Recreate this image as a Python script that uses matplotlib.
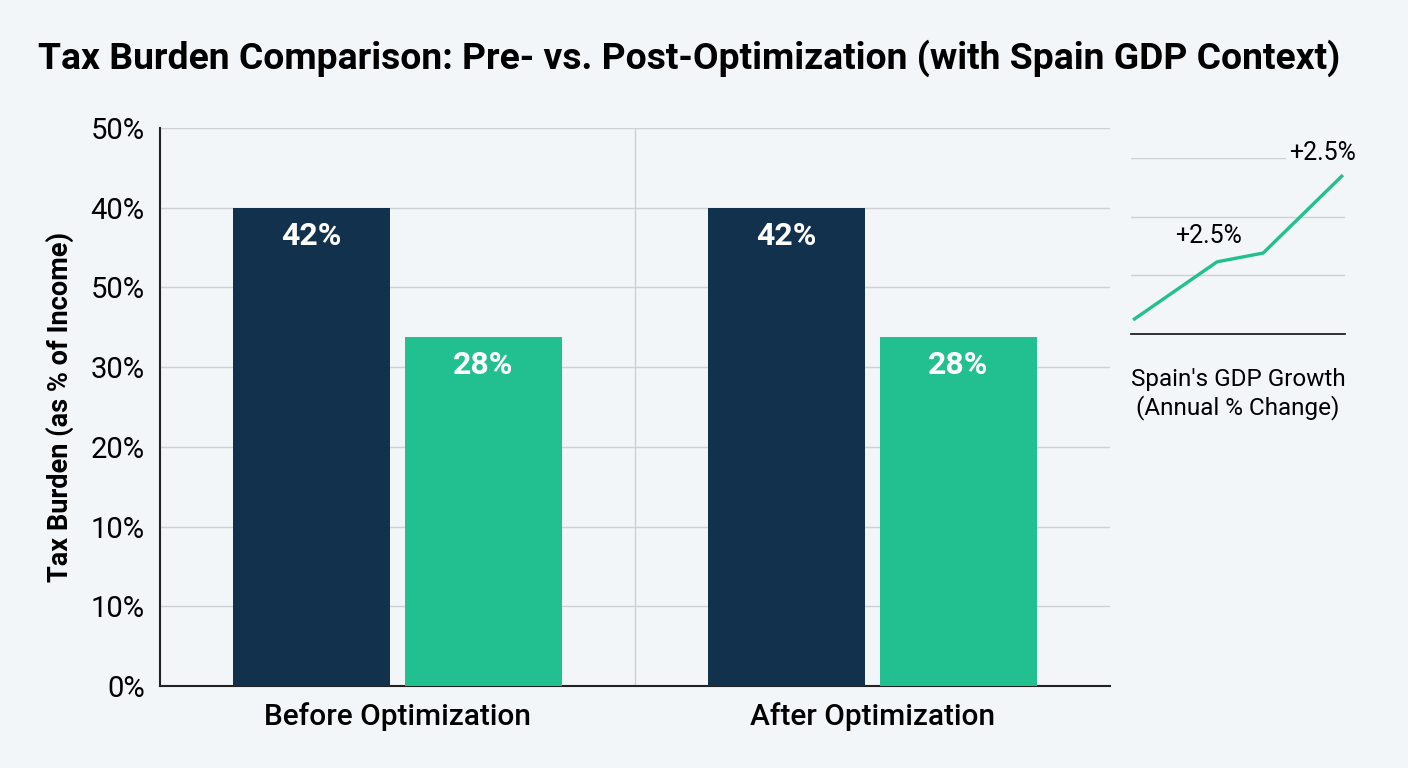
import matplotlib.pyplot as plt

plt.rcParams['font.family'] = ['Roboto', 'DejaVu Sans']

# ── Data ──────────────────────────────────────────────────────────────────────
groups        = ['Before Optimization', 'After Optimization']
navy_heights  = [60, 60]          # bar heights in axis units (tick spacing = 10)
green_heights = [43.8, 43.8]
navy_labels   = ['42%', '42%']
green_labels  = ['28%', '28%']
ytick_vals    = [0, 10, 20, 30, 40, 50, 60, 70]
ytick_labels  = ['0%', '10%', '10%', '20%', '30%', '50%', '40%', '50%']

gdp_x      = [0.0, 0.40, 0.62, 1.0]
gdp_y      = [0.24, 1.23, 1.38, 2.71]
gdp_notes  = [(1, '+2.5%'), (3, '+2.5%')]

BG    = '#F3F6F9'
NAVY  = '#11314D'
GREEN = '#22BF91'
GRID  = '#CDD0D4'

fig = plt.figure(figsize=(14.08, 7.68), dpi=100, facecolor=BG)

# ── Main bar chart ────────────────────────────────────────────────────────────
ax = fig.add_axes([160 / 1408, 1 - 686 / 768, 950 / 1408, 558 / 768])
ax.set_facecolor(BG)

x = range(len(groups))
w, off = 0.33, 0.181
nb = ax.bar([i - off for i in x], navy_heights, width=w, color=NAVY, zorder=3)
gb = ax.bar([i + off for i in x], green_heights, width=w, color=GREEN, zorder=3)

for bars, labels in ((nb, navy_labels), (gb, green_labels)):
    for b, lab in zip(bars, labels):
        ax.annotate(lab, (b.get_x() + b.get_width() / 2, b.get_height()),
                    xytext=(0, -28), textcoords='offset pixels',
                    ha='center', va='center', color='white',
                    fontsize=23, fontweight='bold', zorder=4)

ax.set_xlim(-0.5, 1.5)
ax.set_ylim(0, 70)
ax.set_yticks(ytick_vals)
ax.set_yticklabels(ytick_labels, fontsize=21)
ax.set_xticks(list(x))
ax.set_xticklabels(groups, fontsize=21.5, fontweight='medium')
ax.tick_params(axis='x', length=0, pad=12)
ax.tick_params(axis='y', length=0, pad=11)
ax.yaxis.grid(True, color=GRID, linewidth=1.0, zorder=0)
ax.axvline(0.5, color=GRID, linewidth=1.0, zorder=0)
for s in ('top', 'right'):
    ax.spines[s].set_visible(False)
for s in ('left', 'bottom'):
    ax.spines[s].set_color('#222222')
    ax.spines[s].set_linewidth(1.5)
ax.set_ylabel('Tax Burden (as % of Income)', fontsize=19.5, fontweight='bold', labelpad=12)

# ── GDP inset ─────────────────────────────────────────────────────────────────
ins = fig.add_axes([1131 / 1408, 1 - 334 / 768, 214 / 1408, 176 / 768])
ins.set_facecolor(BG)
ins.plot(gdp_x, gdp_y, color=GREEN, linewidth=2.4, solid_capstyle='butt', zorder=3)
ins.set_xlim(-0.01, 1.01)
ins.set_ylim(0, 3)
ins.set_yticks([1, 2, 3])
ins.set_xticks([])
ins.yaxis.grid(True, color=GRID, linewidth=1.0, zorder=0)
ins.tick_params(axis='y', length=0, labelleft=False)
for s in ('top', 'right', 'left'):
    ins.spines[s].set_visible(False)
ins.spines['bottom'].set_color('#222222')
ins.spines['bottom'].set_linewidth(1.3)
for idx, txt in gdp_notes:
    ins.annotate(txt, (gdp_x[idx], gdp_y[idx]), xytext=(-9, 26) if idx == 1 else (-20, 22),
                 textcoords='offset pixels', ha='center', va='center', fontsize=18,
                 bbox=dict(boxstyle='square,pad=0.15', facecolor=BG, edgecolor='none'),
                 zorder=4, annotation_clip=False)

fig.text(1238 / 1408, 1 - 394 / 768, "Spain's GDP Growth\n(Annual % Change)",
         ha='center', va='center', fontsize=17.5, linespacing=1.2)

# ── Title ─────────────────────────────────────────────────────────────────────
fig.text(38 / 1408, 1 - 58 / 768,
         'Tax Burden Comparison: Pre- vs. Post-Optimization (with Spain GDP Context)',
         ha='left', va='center', fontsize=26.8, fontweight='bold')

fig.savefig('out.png', dpi=100, facecolor=BG)
